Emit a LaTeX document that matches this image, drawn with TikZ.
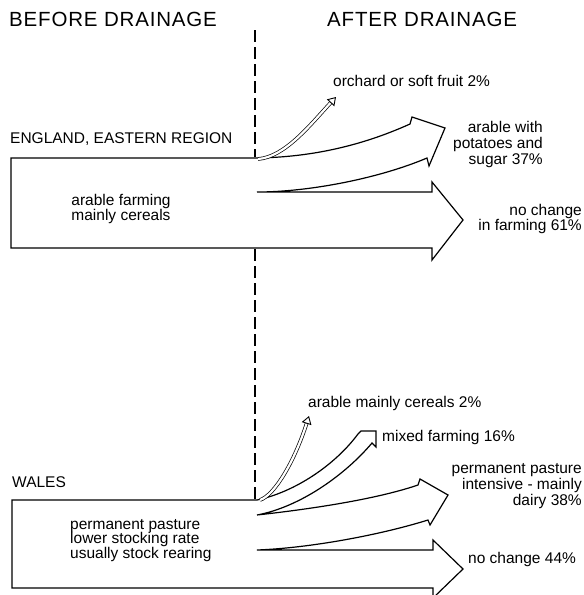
\documentclass[tikz,border=0pt]{standalone}
\usepackage{fontspec}
\setmainfont{Liberation Sans}
\usetikzlibrary{arrows.meta}

\tikzset{
  band/.style={line width=1.2pt, line join=miter},
  thinarrow/.style={double, double distance=2.2pt, line width=0.7pt,
    -{Triangle[open, length=8pt, width=10pt, line width=0.9pt]}},
  divider/.style={line width=1.8pt, dash pattern=on 12pt off 5pt},
  lbl/.style={inner sep=0pt, font=\fontsize{15.5}{16}\selectfont},
  heading/.style={inner sep=0pt, font=\fontsize{20.5}{20.5}\selectfont\addfontfeature{LetterSpace=4}},
}

\begin{document}
\begin{tikzpicture}[x=1pt,y=-1pt]
\useasboundingbox (0,0) rectangle (584,595);

\node[heading, anchor=base west] (before) at (9,26) {BEFORE DRAINAGE};
\node[heading, anchor=base west] (after) at (327,26) {AFTER DRAINAGE};

% england
\coordinate (etl) at (11,158);
\coordinate (etr) at (257,158);
\coordinate (emid) at (257,192);
\coordinate (ebl) at (11,248);
\coordinate (orchard) at (336,97);

\draw[band] (etl) -- (etr)
  .. controls (320,157) and (370,142) .. (410,124)
  -- (412,117) -- (445,128) -- (429,166) -- (427,158)
  .. controls (380,178) and (310,192) .. (emid)
  -- (432,192) -- (432,182) -- (463,220) -- (432,260) -- (432,248)
  -- (ebl) -- cycle;
\draw[thinarrow] (258,159) .. controls (285,157) and (310,125) .. (orchard);

\node[lbl, anchor=base west] (england) at (10,143) {ENGLAND, EASTERN REGION};
\node[lbl, anchor=north, align=center, font=\fontsize{15.5}{15}\selectfont] (arable) at (121,194) {arable farming\\mainly cereals};
\node[lbl, anchor=base west] (fruit) at (333,86) {orchard or soft fruit 2\%};
\node[lbl, anchor=north east, align=right] (potato) at (543,121) {arable with\\potatoes and\\sugar 37\%};
\node[lbl, anchor=north east, align=right, font=\fontsize{15.5}{15.5}\selectfont] (same1) at (582,204) {no change\\in farming 61\%};

% wales
\coordinate (wtl) at (12,500);
\coordinate (wtr) at (257,500);
\coordinate (wa) at (257,515);
\coordinate (wb) at (257,550);
\coordinate (wbl) at (12,588);
\coordinate (cereal) at (309,416);

\draw[band] (wtl) -- (wtr)
  .. controls (295,492) and (335,465) .. (358,434)
  -- (361,431) -- (376,431) -- (376,447) -- (372,443)
  .. controls (345,475) and (300,507) .. (wa)
  .. controls (320,508) and (380,498) .. (418,485)
  -- (420,479) -- (448,495) -- (430,525) -- (428,520)
  .. controls (380,535) and (310,548) .. (wb)
  -- (433,550) -- (433,540) -- (463,569) -- (433,598) -- (433,588)
  -- (wbl) -- cycle;
\draw[thinarrow] (260,500) .. controls (275,495) and (295,460) .. (cereal);

\node[lbl, anchor=base west] (wales) at (12,487) {WALES};
\node[lbl, anchor=north west, align=left, font=\fontsize{15.5}{14.5}\selectfont] (pasture) at (70,519) {permanent pasture\\lower stocking rate\\usually stock rearing};
\node[lbl, anchor=base west] (cereals) at (308,407) {arable mainly cereals 2\%};
\node[lbl, anchor=base west] (mixed) at (382,441) {mixed farming 16\%};
\node[lbl, anchor=north east, align=right] (dairy) at (582,463) {permanent pasture\\intensive - mainly\\dairy 38\%};
\node[lbl, anchor=base west] (same2) at (468,563) {no change 44\%};

\draw[divider] (255,30) -- (255,157);
\draw[divider] (255,249) -- (255,499);
\end{tikzpicture}
\end{document}
